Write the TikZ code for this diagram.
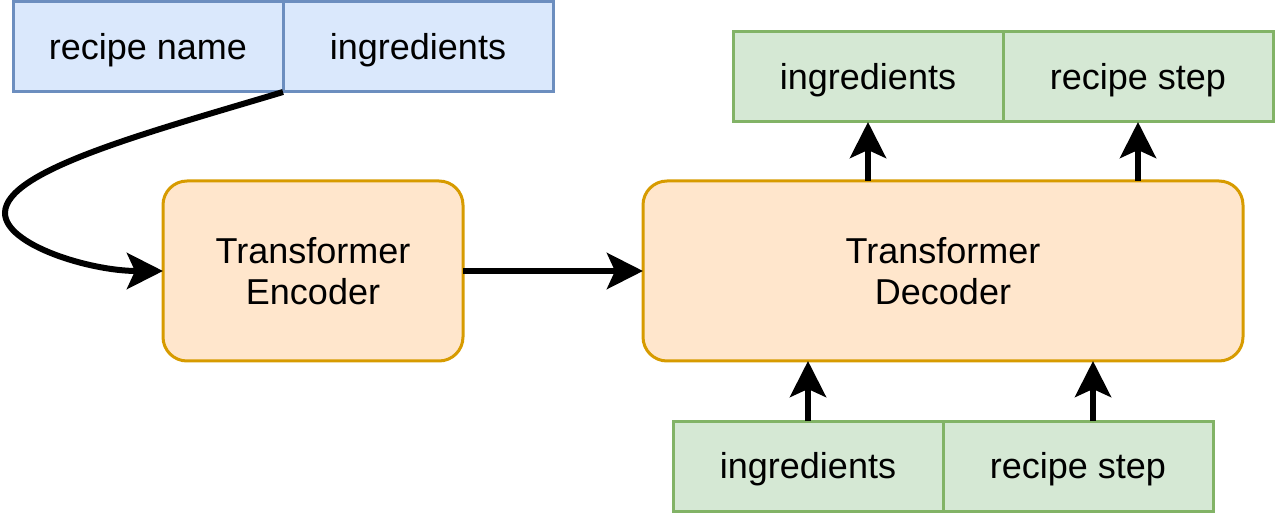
\documentclass[tikz,border=0pt]{standalone}
\usepackage{fontspec}
\setmainfont{Liberation Sans}
\usetikzlibrary{arrows.meta,calc}
\definecolor{bluefill}{HTML}{DAE8FC}
\definecolor{bluedraw}{HTML}{6C8EBF}
\definecolor{greenfill}{HTML}{D5E8D4}
\definecolor{greendraw}{HTML}{82B366}
\definecolor{orangefill}{HTML}{FFE6CC}
\definecolor{orangedraw}{HTML}{D79B00}
\tikzset{
  box/.style={draw, line width=2.25pt, minimum width=202.5pt, minimum height=67.5pt,
    inner sep=0pt, outer sep=0pt, text height=24.4pt, text depth=5.7pt,
    font=\fontsize{27}{31}\selectfont},
  bluebox/.style={box, fill=bluefill, draw=bluedraw},
  greenbox/.style={box, fill=greenfill, draw=greendraw},
  tfbox/.style={draw=orangedraw, fill=orangefill, line width=2.25pt, rounded corners=18pt,
    minimum height=135pt, inner sep=0pt, outer sep=0pt, align=center,
    font=\fontsize{27}{31}\selectfont},
  conn/.style={line width=4.5pt, -{Stealth[length=27pt, width=27pt, inset=6pt]}}
}
\begin{document}
\begin{tikzpicture}[x=0.75pt, y=-0.75pt]
\useasboundingbox (0,0) rectangle (1275,513);
\node[bluebox] (rn) at (148,47) {recipe name};
\node[bluebox] (ing) at (418,47) {ingredients};
\node[greenbox] (oing) at (868,77) {ingredients};
\node[greenbox] (ostep) at (1138,77) {recipe step};
\node[tfbox, minimum width=225pt] (enc) at (313,271) {Transformer\\Encoder};
\node[tfbox, minimum width=450pt] (dec) at (943,271) {Transformer\\Decoder};
\node[greenbox] (iing) at (808,466) {ingredients};
\node[greenbox] (istep) at (1078,466) {recipe step};
\coordinate (cstart) at (ing.south west);
\coordinate (cmid) at (5,213);
\draw[conn] (cstart) .. controls (150,132) and (5,170) .. (cmid)
  .. controls (5,245) and (90,271) .. (enc.west);
\draw[conn] (enc.east) -- (dec.west);
\draw[conn] (dec.north -| oing.south) -- (oing.south);
\draw[conn] (dec.north -| ostep.south) -- (ostep.south);
\coordinate (istepup) at ($(istep.north)+(15,0)$);
\draw[conn] (iing.north) -- (iing.north |- dec.south);
\draw[conn] (istepup) -- (istepup |- dec.south);
\end{tikzpicture}
\end{document}
